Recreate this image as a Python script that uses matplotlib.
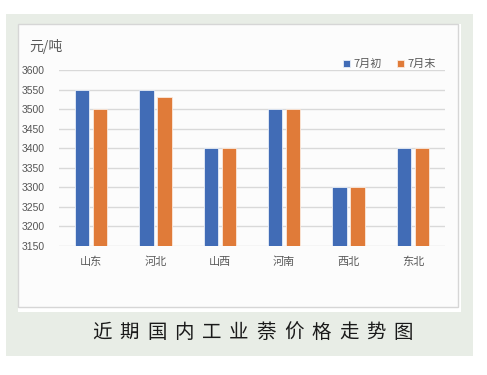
import matplotlib
matplotlib.use("Agg")
import matplotlib.pyplot as plt
from matplotlib.patches import Rectangle
import numpy as np

plt.rcParams['font.family'] = ['Noto Sans CJK SC', 'DejaVu Sans']

regions = ["山东", "河北", "山西", "河南", "西北", "东北"]
early_july = [3550, 3550, 3400, 3500, 3300, 3400]
late_july = [3500, 3530, 3400, 3500, 3300, 3400]
yticks = [3150, 3200, 3250, 3300, 3350, 3400, 3450, 3500, 3550, 3600]
title_text = "近期国内工业萘价格走势图"

W, H = 487, 375
fig = plt.figure(figsize=(W / 100, H / 100), dpi=100)


def box(x0, y0, x1, y1, **kw):
    # pixel box (top-down) -> figure rectangle
    fig.patches.append(Rectangle((x0 / W, 1 - y1 / H), (x1 - x0) / W, (y1 - y0) / H,
                                 transform=fig.transFigure, **kw))


box(6, 14, 473, 356, facecolor='#e8ede6', edgecolor='none', zorder=0)
box(18, 24, 461, 312, facecolor='white', edgecolor='none', zorder=1)
box(18, 24, 458, 307, facecolor='#fcfcfc', edgecolor='#d6d6d6', linewidth=1, zorder=2)

ax = fig.add_axes([59 / W, 1 - 245.7 / H, (445 - 59) / W, (245.7 - 70) / H], zorder=3)
ax.patch.set_alpha(0)

x = np.arange(len(regions))
bw = 0.22
ax.bar(x - 0.14, [v - 3150 for v in early_july], bw, bottom=3150, color='#416cb6',
       edgecolor='#e8eef8', linewidth=0.6, label='7月初', zorder=3)
ax.bar(x + 0.14, [v - 3150 for v in late_july], bw, bottom=3150, color='#e07b39',
       edgecolor='#fbe9dc', linewidth=0.6, label='7月末', zorder=3)

ax.set_xlim(-0.5, len(regions) - 0.5)
ax.set_ylim(3150, 3600)
ax.set_yticks(yticks)
ax.set_yticklabels([str(v) for v in yticks], family='Liberation Sans', fontsize=7.5, color='#555555')
ax.set_xticks(x)
ax.set_xticklabels(regions, fontsize=8, color='#595959')
ax.tick_params(axis='both', length=0)
ax.tick_params(axis='y', pad=10)
ax.tick_params(axis='x', pad=8)
ax.grid(axis='y', color='#d9d9d9', linewidth=1, zorder=0)
for s in ax.spines.values():
    s.set_visible(False)

leg = ax.legend(loc='lower right', bbox_to_anchor=(0.975, 1.005), ncol=2, frameon=False,
                fontsize=8, handlelength=0.6, handleheight=0.6, handletextpad=0.3,
                columnspacing=1.4, borderaxespad=0, borderpad=0)
for t in leg.get_texts():
    t.set_color('#595959')

fig.text(29 / W, 1 - 46 / H, "元/吨", fontsize=10, color='#595959', va='center', ha='left', zorder=4)

# title, drawn character by character for the wide letter spacing
for i, ch in enumerate(title_text):
    fig.text((102 + i * 27.4) / W, 1 - 332 / H, ch, fontsize=14, color='#1a1a1a',
             ha='center', va='center', fontweight='medium', zorder=4)

fig.savefig('out.png', dpi=100)
